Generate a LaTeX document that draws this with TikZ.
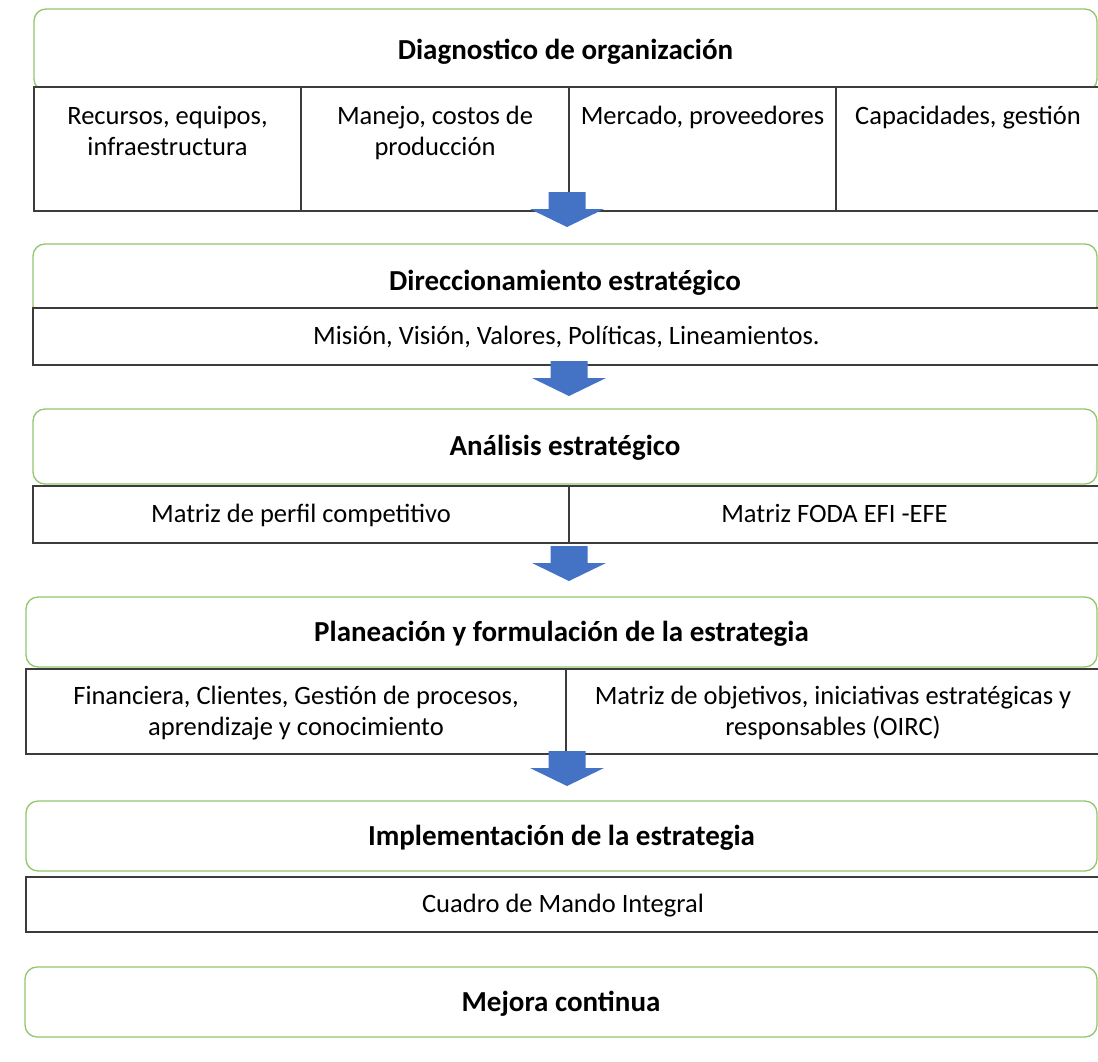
\documentclass[tikz,border=0pt]{standalone}
\usepackage{fontspec}
\setmainfont{Carlito}
\usepackage{tikz}
\usetikzlibrary{positioning}
\definecolor{stagegreen}{RGB}{146,198,108}
\definecolor{cellgray}{RGB}{60,60,60}
\definecolor{flowblue}{RGB}{68,114,196}

\begin{document}
\begin{tikzpicture}[x=1pt, y=-1pt,
    stage/.style={rectangle, draw=stagegreen, line width=1.3pt, rounded corners=12pt, anchor=north west, inner sep=0pt, outer sep=0pt, minimum height=70pt, text depth=0.22em, font=\fontsize{29}{33}\selectfont\bfseries},
    cell/.style={rectangle, draw=cellgray, fill=white, line width=1.5pt, anchor=north west, inner sep=0pt, outer sep=0pt, align=center, text depth=0.22em, font=\fontsize{26.5}{31}\selectfont},
    cell_text/.style={align=center, inner sep=0pt, font=\fontsize{26.5}{31}\selectfont},
    flow_arrow/.pic={\fill[flowblue] (-18.5,0) -- (18.5,0) -- (18.5,17) -- (37,17) -- (0,35) -- (-37,17) -- (-18.5,17) -- cycle;},
    node distance=14pt
]
    \useasboundingbox (0,0) rectangle (1098,1061);

    % Diagnostico
    \node[stage, minimum width=1063pt, minimum height=82pt] (diag) at (34,9) {Diagnostico de organización};
    \node[cell, minimum width=267pt, minimum height=124pt] (rec) at (34,87) {};
    \node[cell, minimum width=268pt, minimum height=124pt] (man) at (301,87) {};
    \node[cell, minimum width=267pt, minimum height=124pt] (mer) at (569,87) {};
    \node[cell, minimum width=264pt, minimum height=124pt] (cap) at (836,87) {};
    \node[cell_text, below=19pt of rec.north] {Recursos, equipos,\\infraestructura};
    \node[cell_text, below=19pt of man.north] {Manejo, costos de\\producción};
    \node[cell_text, below=19pt of mer.north] {Mercado, proveedores};
    \node[cell_text, below=19pt of cap.north] {Capacidades, gestión};

    % Direccionamiento
    \node[stage, minimum width=1064pt, minimum height=74pt] (dir) at (33,244) {Direccionamiento estratégico};
    \node[cell, minimum width=1067pt, minimum height=57pt] (mis) at (33,308) {Misión, Visión, Valores, Políticas, Lineamientos.};

    % Analisis
    \node[stage, minimum width=1064pt, minimum height=75pt] (ana) at (33,409) {Análisis estratégico};
    \node[cell, minimum width=536pt, minimum height=57pt] (mpc) at (33,486) {Matriz de perfil competitivo};
    \node[cell, minimum width=531pt, minimum height=57pt] (foda) at (569,486) {Matriz FODA EFI -EFE};

    % Planeacion
    \node[stage, minimum width=1071pt] (pla) at (26,597) {Planeación y formulación de la estrategia};
    \node[cell, minimum width=540pt, minimum height=85pt] (fin) at (26,669) {Financiera, Clientes, Gestión de procesos,\\aprendizaje y conocimiento};
    \node[cell, minimum width=534pt, minimum height=85pt] (oirc) at (566,669) {Matriz de objetivos, iniciativas estratégicas y\\responsables (OIRC)};

    % Implementacion
    \node[stage, minimum width=1071pt] (imp) at (26,801) {Implementación de la estrategia};
    \node[cell, minimum width=1074pt, minimum height=55pt] (cmi) at (26,877) {Cuadro de Mando Integral};

    % Mejora
    \node[stage, minimum width=1072pt] (mej) at (25,967) {Mejora continua};

    % Flechas
    \pic (f1) at (567,192) {flow_arrow};
    \pic (f2) at (569,361) {flow_arrow};
    \pic (f3) at (569,546) {flow_arrow};
    \pic (f4) at (567,751) {flow_arrow};
\end{tikzpicture}
\end{document}
